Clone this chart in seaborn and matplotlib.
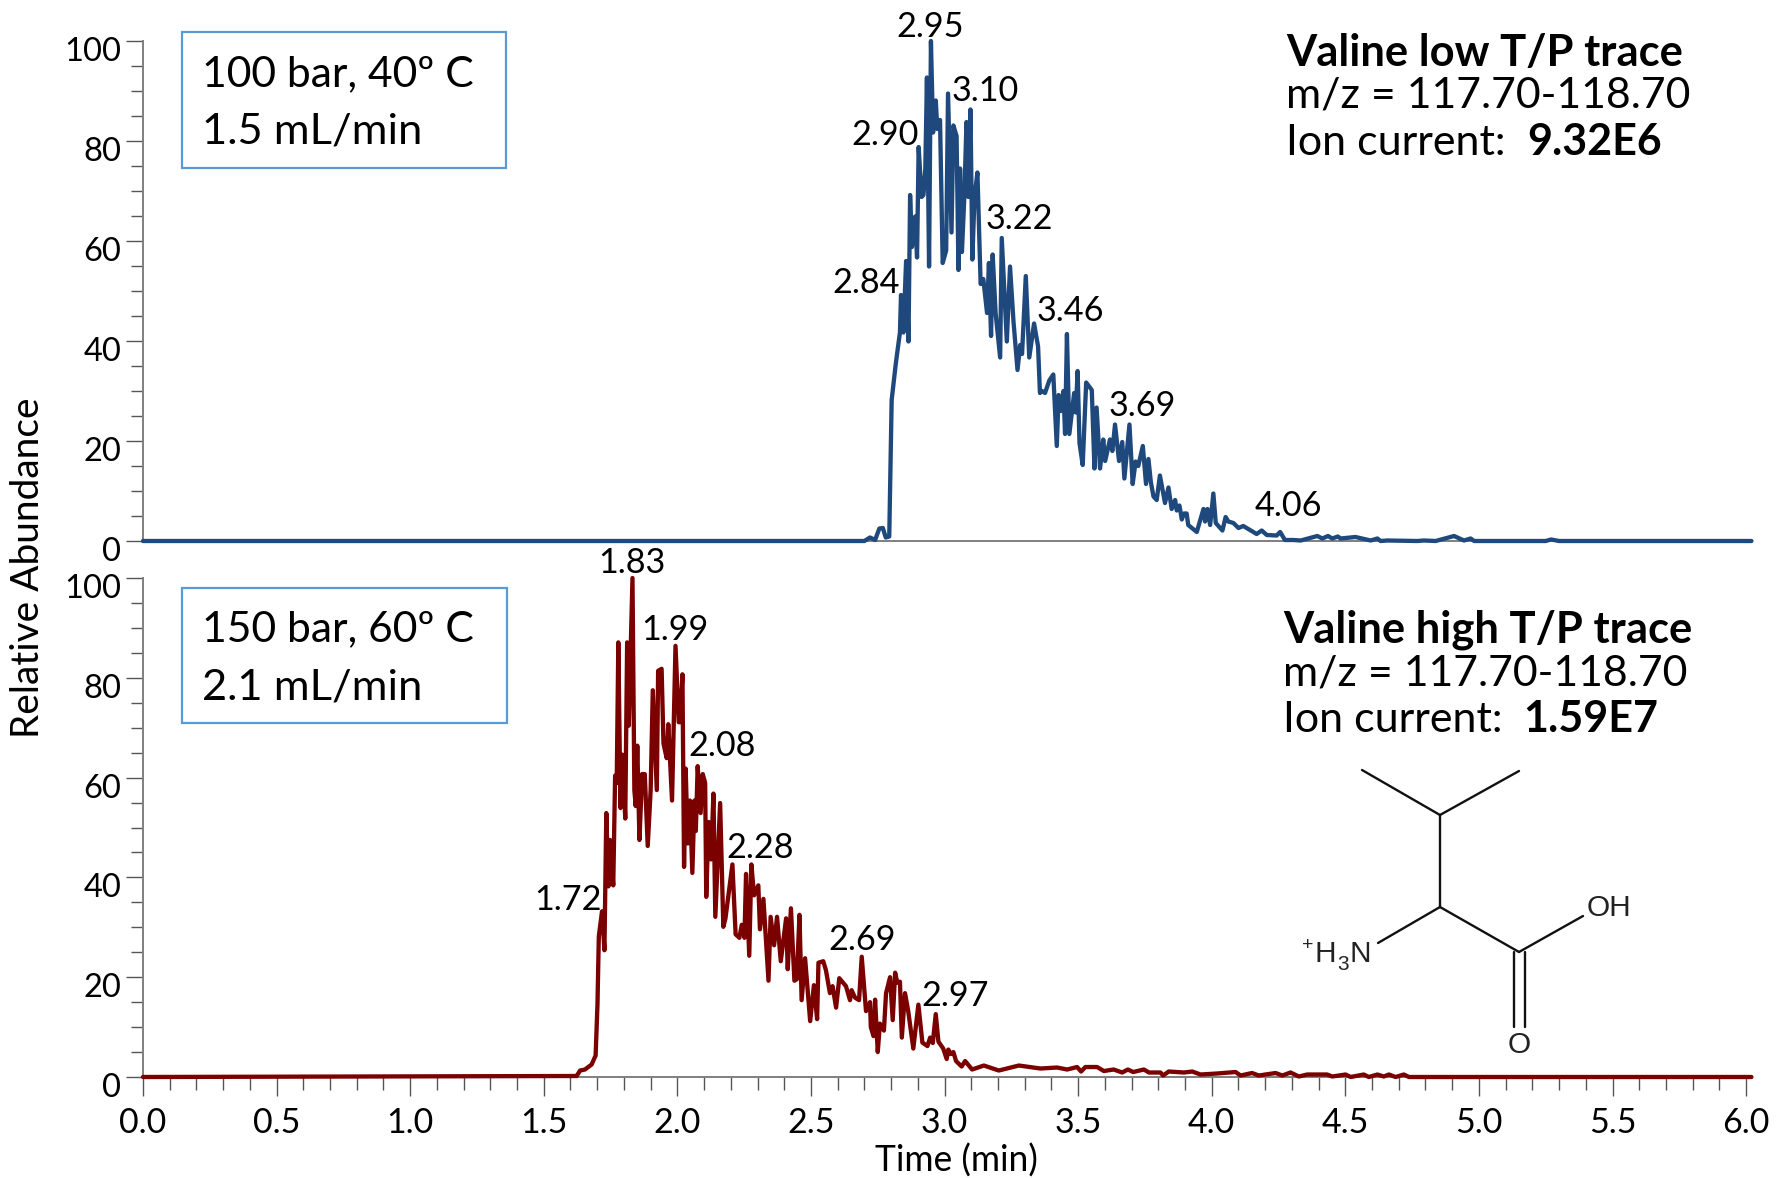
import matplotlib
matplotlib.use("Agg")
import matplotlib.pyplot as plt
import matplotlib.transforms as mtrans
from matplotlib.lines import Line2D
from matplotlib.patches import Rectangle
from matplotlib.ticker import MultipleLocator
import pandas as pd
import seaborn as sns

W, H = 1783, 1178

low_time = [0.0, 2.70, 2.721, 2.740, 2.756, 2.769, 2.780, 2.793, 2.802, 2.818, 2.833, 2.837, 2.846, 2.856, 2.865, 2.871, 2.878, 2.890, 2.897, 2.903, 2.914, 2.921, 2.928, 2.934, 2.942, 2.949, 2.957, 2.967, 2.973, 2.983, 2.993, 3.006, 3.013, 3.026, 3.033, 3.045, 3.052, 3.058, 3.065, 3.074, 3.082, 3.089, 3.097, 3.104, 3.112, 3.123, 3.135, 3.145, 3.159, 3.166, 3.174, 3.180, 3.191, 3.208, 3.214, 3.233, 3.245, 3.258, 3.273, 3.283, 3.290, 3.304, 3.317, 3.335, 3.350, 3.357, 3.365, 3.376, 3.392, 3.407, 3.420, 3.427, 3.435, 3.445, 3.451, 3.458, 3.467, 3.485, 3.491, 3.498, 3.505, 3.517, 3.530, 3.551, 3.561, 3.569, 3.582, 3.594, 3.601, 3.619, 3.628, 3.638, 3.653, 3.665, 3.673, 3.692, 3.704, 3.715, 3.725, 3.742, 3.754, 3.763, 3.772, 3.782, 3.794, 3.806, 3.825, 3.838, 3.850, 3.863, 3.869, 3.879, 3.888, 3.896, 3.906, 3.912, 3.937, 3.944, 3.969, 3.975, 3.984, 3.994, 4.006, 4.015, 4.040, 4.052, 4.062, 4.081, 4.100, 4.118, 4.156, 4.168, 4.187, 4.206, 4.243, 4.256, 4.274, 4.305, 4.333, 4.395, 4.414, 4.435, 4.451, 4.472, 4.482, 4.538, 4.595, 4.620, 4.632, 4.657, 4.769, 4.794, 4.838, 4.907, 4.944, 4.969, 4.982, 5.25, 5.27, 5.30, 6.02]
low_abundance = [0, 0, 0.7, 0.2, 2.5, 2.6, 0.7, 0.9, 28.2, 35.7, 41.7, 49.2, 41.7, 56.0, 39.9, 69.2, 58.8, 64.9, 56.7, 78.8, 68.8, 69.2, 74.5, 92.7, 54.9, 100, 81.7, 88.1, 82.4, 84.2, 55.6, 58.1, 89.5, 61.7, 83.1, 81.0, 54.2, 74.5, 57.8, 68.8, 83.8, 68.8, 86.3, 56.3, 68.8, 73.7, 51.4, 52.4, 45.6, 55.6, 41.0, 57.3, 45.6, 36.7, 60.6, 39.9, 54.9, 43.9, 34.2, 39.2, 37.4, 53.0, 36.7, 43.5, 38.9, 29.6, 30.0, 29.6, 32.1, 33.3, 19.0, 29.2, 26.0, 30.0, 21.4, 41.4, 21.4, 29.6, 25.7, 34.0, 19.6, 15.2, 31.7, 30.2, 14.5, 26.7, 14.5, 20.3, 16.0, 20.3, 18.0, 23.3, 16.0, 19.8, 12.5, 23.3, 11.4, 15.9, 15.0, 19.0, 11.4, 16.4, 11.8, 8.9, 8.2, 13.1, 7.6, 10.7, 6.4, 8.2, 6.1, 7.1, 4.3, 5.5, 5.5, 3.2, 2.1, 1.8, 6.4, 3.9, 6.4, 3.2, 9.5, 3.6, 2.1, 4.8, 3.9, 3.6, 2.6, 3.0, 1.8, 1.4, 2.1, 1.2, 1.1, 1.8, 0.2, 0.2, 0.1, 1.0, 0.5, 1.0, 0.5, 0.9, 0.5, 0.8, 0.1, 0.5, 0, 0.1, 0, 0.1, 0, 1.0, 0.1, 0.5, 0, 0, 0.3, 0, 0]

high_time = [0.0, 1.623, 1.636, 1.654, 1.679, 1.694, 1.701, 1.706, 1.718, 1.727, 1.734, 1.742, 1.748, 1.760, 1.767, 1.773, 1.779, 1.787, 1.794, 1.805, 1.812, 1.818, 1.832, 1.839, 1.844, 1.850, 1.858, 1.868, 1.878, 1.889, 1.900, 1.908, 1.923, 1.928, 1.941, 1.948, 1.960, 1.966, 1.980, 1.993, 2.005, 2.010, 2.019, 2.025, 2.031, 2.039, 2.047, 2.056, 2.064, 2.069, 2.076, 2.087, 2.095, 2.104, 2.108, 2.117, 2.126, 2.135, 2.142, 2.160, 2.172, 2.180, 2.206, 2.218, 2.232, 2.241, 2.251, 2.257, 2.269, 2.277, 2.287, 2.303, 2.309, 2.322, 2.341, 2.349, 2.362, 2.373, 2.387, 2.407, 2.413, 2.425, 2.438, 2.447, 2.457, 2.465, 2.478, 2.497, 2.511, 2.523, 2.528, 2.546, 2.556, 2.571, 2.581, 2.594, 2.606, 2.631, 2.646, 2.652, 2.665, 2.680, 2.690, 2.706, 2.721, 2.724, 2.734, 2.740, 2.750, 2.758, 2.773, 2.781, 2.796, 2.806, 2.815, 2.823, 2.833, 2.840, 2.852, 2.864, 2.883, 2.902, 2.917, 2.936, 2.946, 2.956, 2.967, 2.977, 2.995, 3.008, 3.014, 3.023, 3.033, 3.043, 3.064, 3.077, 3.103, 3.147, 3.203, 3.278, 3.359, 3.421, 3.459, 3.496, 3.511, 3.527, 3.571, 3.596, 3.633, 3.665, 3.686, 3.706, 3.746, 3.765, 3.808, 3.818, 3.839, 3.896, 3.927, 3.958, 4.020, 4.089, 4.108, 4.151, 4.176, 4.239, 4.264, 4.295, 4.326, 4.357, 4.432, 4.451, 4.501, 4.520, 4.569, 4.588, 4.620, 4.644, 4.663, 4.688, 4.719, 4.738, 6.02]
high_abundance = [0, 0.2, 1.3, 1.5, 2.5, 4.3, 14.6, 28.2, 33.2, 25.4, 52.9, 38.2, 47.5, 38.4, 60.4, 58.9, 87.1, 53.9, 64.6, 51.8, 87.1, 70.4, 100, 57.5, 54.3, 66.4, 47.5, 60.7, 60.7, 46.3, 57.5, 77.5, 57.5, 81.4, 81.8, 66.8, 63.9, 70.7, 55.4, 86.4, 71.1, 71.1, 80.7, 42.1, 61.8, 46.8, 55.4, 40.9, 55.4, 49.3, 62.3, 52.9, 60.7, 58.9, 36.1, 51.1, 43.6, 56.8, 32.1, 54.9, 30.1, 31.8, 42.6, 28.6, 27.9, 30.5, 27.9, 40.7, 24.3, 42.6, 36.4, 38.4, 29.6, 35.7, 19.3, 32.1, 26.4, 32.1, 23.2, 31.8, 21.6, 33.8, 19.3, 19.6, 32.5, 15.4, 23.8, 11.2, 18.4, 11.6, 22.9, 23.2, 21.4, 16.8, 18.2, 13.9, 19.8, 18.2, 15.4, 17.4, 15.9, 15.4, 24.1, 13.2, 15.0, 10.0, 8.2, 15.5, 5.0, 10.7, 9.3, 16.8, 20.0, 11.4, 20.9, 18.9, 19.1, 7.9, 16.8, 13.2, 5.7, 14.5, 6.9, 6.2, 7.9, 6.8, 12.6, 7.1, 5.7, 3.6, 5.5, 4.6, 5.0, 3.2, 2.1, 3.2, 1.5, 2.3, 1.3, 2.3, 1.7, 1.9, 1.5, 2.0, 1.1, 2.0, 2.0, 1.2, 1.5, 0.9, 1.5, 1.0, 1.5, 0.9, 0.9, 0.3, 1.1, 0.9, 1.1, 0.5, 0.7, 1.0, 0.3, 0.8, 0.3, 0.8, 0.3, 0.9, 0.1, 0.5, 0.5, 0.1, 0.5, 0, 0.5, 0, 0.5, 0.1, 0.5, 0, 0.5, 0, 0]

low_labels = ["2.95", "3.10", "2.90", "3.22", "2.84", "3.46", "3.69", "4.06"]
high_labels = ["1.83", "1.99", "2.08", "1.72", "2.28", "2.69", "2.97"]
x_ticks = [0.0, 0.5, 1.0, 1.5, 2.0, 2.5, 3.0, 3.5, 4.0, 4.5, 5.0, 5.5, 6.0]
y_ticks = [0, 20, 40, 60, 80, 100]

low_xy = [(930, 27), (985, 91), (885, 135), (1019, 219), (866, 283), (1070, 311), (1142, 406), (1288, 506)]
high_xy = [(632, 563), (675, 630), (722, 746), (568, 900), (760, 848), (862, 940), (955, 996)]

sns.set_theme(style="white")
plt.rcParams["font.family"] = ["Lato", "DejaVu Sans"]

fig = plt.figure(figsize=(W / 100, H / 100), dpi=100)


def make_axes(top, bottom):
    return fig.add_axes([143 / W, 1 - bottom / H, (1752 - 143) / W, (bottom - top) / H])


def px(x, y, s, **kw):
    kw.setdefault("color", "black")
    return fig.text(x / W, 1 - y / H, s, **kw)


ax_low = make_axes(41, 541)
ax_high = make_axes(578, 1077)
GREY = "#7f7f7f"

for ax, t, v, col in [(ax_low, low_time, low_abundance, "#1F497D"),
                      (ax_high, high_time, high_abundance, "#7B0000")]:
    df = pd.DataFrame({"t": t, "v": v})
    sns.lineplot(data=df, x="t", y="v", ax=ax, color=col, linewidth=3.1,
                 estimator=None, sort=False, clip_on=False, zorder=5)
    ax.set_xlim(0, 6.022)
    ax.set_ylim(0, 100)
    ax.set_xlabel("")
    ax.set_ylabel("")
    ax.patch.set_alpha(0)
    for s in ("top", "right"):
        ax.spines[s].set_visible(False)
    for s in ("left", "bottom"):
        ax.spines[s].set_color(GREY)
        ax.spines[s].set_linewidth(1.4)
    ax.set_yticks(y_ticks)
    ax.yaxis.set_minor_locator(MultipleLocator(5))
    ax.tick_params(axis="y", which="major", direction="out", left=True, length=12.5,
                   width=1, color="#555555", labelsize=23.5, pad=3, labelcolor="black")
    ax.tick_params(axis="y", which="minor", direction="out", left=True, length=8.8,
                   width=1, color="#555555")
    shift = mtrans.ScaledTranslation(0, -8 / 100, fig.dpi_scale_trans)
    for lab in ax.get_yticklabels():
        lab.set_transform(lab.get_transform() + shift)

ax_low.set_xticks([])
ax_low.tick_params(axis="x", which="both", bottom=False, labelbottom=False)

ax_high.set_xticks(x_ticks)
ax_high.set_xticklabels([f"{x:.1f}" for x in x_ticks])
ax_high.xaxis.set_minor_locator(MultipleLocator(0.1))
ax_high.tick_params(axis="x", which="major", direction="out", bottom=True, length=13.7,
                    width=1, color="#555555", labelsize=24.5, pad=8, labelcolor="black")
ax_high.tick_params(axis="x", which="minor", direction="out", bottom=True, length=9.4,
                    width=1, color="#555555")

for labs, xy in [(low_labels, low_xy), (high_labels, high_xy)]:
    for s, (x, y) in zip(labs, xy):
        px(x, y, s, ha="center", va="center", fontsize=24.7)

px(28, 568, "Relative Abundance", rotation=90, ha="center", va="center", fontsize=28)
px(956, 1161, "Time (min)", ha="center", va="center", fontsize=25.6)

for (l, t, r, b), line1, line2, y1, y2 in [
    ((182, 32, 506, 168), "100 bar, 40\u00ba C", "1.5 mL/min", 86, 143),
    ((182, 588, 507, 723), "150 bar, 60\u00ba C", "2.1 mL/min", 641, 699),
]:
    fig.add_artist(Rectangle((l / W, 1 - b / H), (r - l) / W, (b - t) / H, transform=fig.transFigure,
                             facecolor="white", edgecolor="#5B9BD5", linewidth=1.6, zorder=3))
    px(202, y1, line1, fontsize=30.7, va="baseline", zorder=4)
    px(202, y2, line2, fontsize=31.3, va="baseline", zorder=4)

for x0, title, b1, b2, b3, xb, val in [
    (1286, "Valine low T/P trace", 66, 108, 155, 1527, "9.32E6"),
    (1283, "Valine high T/P trace", 642, 685, 732, 1523, "1.59E7"),
]:
    px(x0, b1, title, fontsize=31.3, fontweight="bold", va="baseline")
    px(x0, b2, "m/z = 117.70-118.70", fontsize=30.8, va="baseline")
    px(x0, b3, "Ion current:", fontsize=31, va="baseline")
    px(xb, b3, val, fontsize=31, fontweight="bold", va="baseline")

bonds = [[(1362, 770), (1440, 815)], [(1440, 815), (1519, 771)], [(1440, 815), (1440, 907)],
         [(1440, 907), (1378, 943)], [(1440, 907), (1519, 952)], [(1519, 952), (1583, 916)],
         [(1514, 952), (1514, 1027)], [(1525, 952), (1525, 1027)]]
for (x1, y1), (x2, y2) in bonds:
    fig.add_artist(Line2D([x1 / W, x2 / W], [1 - y1 / H, 1 - y2 / H], transform=fig.transFigure,
                          color="#111111", linewidth=1.7))

chem = ["Liberation Sans", "DejaVu Sans"]
px(1609, 908, "OH", family=chem, fontsize=21.5, ha="center", va="center", color="#222222")
px(1519, 1045, "O", family=chem, fontsize=21.5, ha="center", va="center", color="#222222")
px(1308, 945, "+", family=chem, fontsize=14, ha="center", va="center", color="#222222")
px(1325, 954, "H", family=chem, fontsize=21.5, ha="center", va="center", color="#222222")
px(1343, 965, "3", family=chem, fontsize=15, ha="center", va="center", color="#222222")
px(1360, 954, "N", family=chem, fontsize=21.5, ha="center", va="center", color="#222222")

fig.savefig("out.png", dpi=100, facecolor="white")
